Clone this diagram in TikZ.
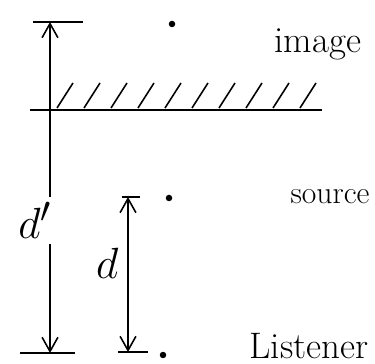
\documentclass[tikz,border=0pt]{standalone}
\usepackage{amsmath, amssymb}
\usepackage{tikz}
\usetikzlibrary{positioning,arrows.meta}

\begin{document}
\begin{tikzpicture}[
  x=0.02cm, y=-0.02cm,
  font=\fontsize{21}{24}\selectfont, >={Straight Barb[length=8pt,width=9pt]},
  pt/.style={circle, fill=black, inner sep=0pt, minimum size=1.3mm},
  lbl/.style={inner sep=1pt},
  dimlbl/.style={font=\Huge, inner sep=2pt, inner ysep=3pt},
  wall/.style={line width=1.3pt},
  hatchline/.style={line width=0.9pt},
  arr/.style={line width=0.9pt},
]
\useasboundingbox (0,0) rectangle (375,364);

% mirror
\coordinate (wl) at (30,110);
\coordinate (wr) at (322,110);
\draw[wall] (wl) -- (wr);
\foreach \x in {57,84,...,300} \draw[hatchline] (\x,108) -- ++(16,-25);

% points
\node[pt] (img) at (172,24) {};
\node[pt] (src) at (169,198) {};
\node[pt] (lis) at (163,355) {};
\node[lbl] (imgtxt) at (318,44) {image};
\node[lbl, font=\fontsize{18}{20}\selectfont] (srctxt) at (330,197) {source};
\node[lbl] (listxt) at (309,346) {Listener};

% distances
\coordinate (itop) at (50,22);
\coordinate (ibot) at (50,353);
\coordinate (stop) at (128,197);
\coordinate (sbot) at (128,352);
\draw[arr] (itop) ++(-17,0) -- ++(50,0);
\draw[arr] (ibot) ++(-30,0) -- ++(55,0);
\draw[arr] (stop) ++(-6,0) -- ++(18,0);
\draw[arr] (sbot) ++(-10,0) -- ++(30,0);
\draw[arr, <->] (itop) -- node[dimlbl, fill=white, pos=.6, xshift=-0.3cm] {$d'$} (ibot);
\draw[arr, <->] (stop) -- node[dimlbl, left=3pt, pos=.43] {$d$} (sbot);
\end{tikzpicture}
\end{document}
